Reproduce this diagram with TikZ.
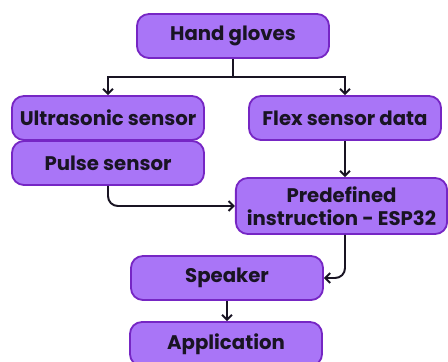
\documentclass[tikz,border=0pt]{standalone}
\usepackage{fontspec}
\setmainfont{Poppins}
\usetikzlibrary{arrows.meta}
\definecolor{boxfill}{RGB}{169,117,247}
\definecolor{boxline}{RGB}{118,38,196}
\definecolor{ink}{RGB}{25,20,35}

\begin{document}
\begin{tikzpicture}[
        x=0.025cm, y=-0.025cm,
        box/.style={rectangle, rounded corners=8.5pt, draw=boxline, fill=boxfill, line width=1.3pt,
          text=ink, font=\bfseries\fontsize{14}{16}\selectfont, align=center, inner sep=0pt,
          minimum width=4.8cm, minimum height=1.1cm},
        wide/.style={minimum width=5.28cm, minimum height=1.4cm},
        wire/.style={line width=1.4pt, ink},
        link/.style={-{Straight Barb[length=3.5pt,width=7pt,line width=1.4pt]}, line width=1.4pt, ink},
        ]
        \useasboundingbox (0,0) rectangle (448,362);
        \node(gloves)[box] at (233,36) {Hand gloves};
        \node(ultra)[box] at (108,118) {Ultrasonic sensor};
        \node(pulse)[box] at (108,163) {Pulse sensor};
        \node(flex)[box] at (345,118) {Flex sensor data};
        \node(esp)[box,wide] at (341.5,206) {Predefined\\instruction - ESP32};
        \node(speaker)[box] at (227,278) {Speaker};
        \node(app)[box] at (226,344) {Application};
        \coordinate(split) at (233,77);

        \draw[wire](gloves.south)--(split);
        \draw[link](split)-|(ultra.north);
        \draw[link](split)-|(flex.north);
        \draw[link](flex.south)--(flex.south |- esp.north);
        \draw[link,rounded corners=7pt](pulse.south)|-(esp.west);
        \draw[link,rounded corners=7pt](esp.south -| flex.south)|-(speaker.east);
        \draw[link](speaker.south)--(speaker.south |- app.north);
      \end{tikzpicture}
\end{document}
